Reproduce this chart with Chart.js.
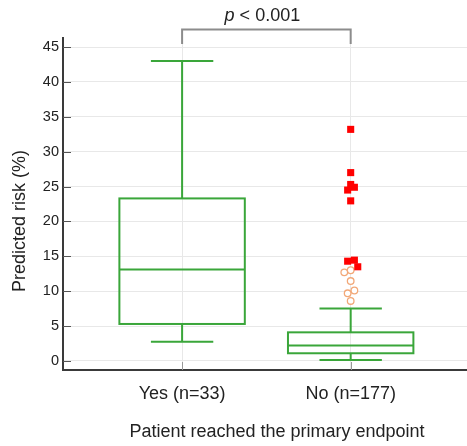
<!DOCTYPE html>
<html>
<head>
<meta charset="utf-8">
<script src="https://cdn.jsdelivr.net/npm/chart.js@4"></script>
<style>
  html, body { margin: 0; padding: 0; background: #ffffff; overflow: hidden; }
  canvas { display: block; }
</style>
</head>
<body>
<canvas id="c" width="467" height="446"></canvas>
<script>
// ---- data ----
const categories = ['Yes (n=33)', 'No (n=177)'];
const boxMin    = [2.75, 0.15];
const boxQ1     = [5.3, 1.1];
const boxMedian = [13.1, 2.2];
const boxQ3     = [23.3, 4.1];
const boxMax    = [43.0, 7.5];
// outliers of group "No" (index 1)
const extremeY      = [33.2, 27.0, 25.3, 24.9, 24.5, 22.95, 14.3, 14.45, 13.5];
const extremeJitter = [0, 0, 0, 0.022, -0.018, 0, -0.018, 0.022, 0.042];
const mildY         = [13.0, 12.7, 11.45, 10.1, 9.7, 8.6];
const mildJitter    = [0, -0.038, 0, 0.022, -0.018, 0];
const yTicks = [0, 5, 10, 15, 20, 25, 30, 35, 40, 45];
const yTitle = 'Predicted risk (%)';
const xTitle = 'Patient reached the primary endpoint';
const pText = ['p', ' < 0.001'];

const FONT = "'Liberation Sans', Arial, Helvetica, sans-serif";
const GREEN = '#3aa63a';

const extremeData = extremeY.map((v, i) => ({ x: 2 + extremeJitter[i], y: v }));
const mildData = mildY.map((v, i) => ({ x: 2 + mildJitter[i], y: v }));

const boxPlugin = {
  id: 'boxes',
  beforeDatasetsDraw(chart) {
    const { ctx, scales: { x, y }, chartArea } = chart;
    ctx.save();
    // inward tick marks
    ctx.lineWidth = 1;
    ctx.strokeStyle = '#555';
    yTicks.forEach(v => {
      const py = Math.round(y.getPixelForValue(v)) + 0.5;
      ctx.beginPath(); ctx.moveTo(chartArea.left, py); ctx.lineTo(chartArea.left + 8, py); ctx.stroke();
    });
    ctx.strokeStyle = '#999';
    categories.forEach((c, i) => {
      const px = Math.round(x.getPixelForValue(i + 1)) + 0.5;
      ctx.beginPath(); ctx.moveTo(px, chartArea.bottom - 8); ctx.lineTo(px, chartArea.bottom); ctx.stroke();
    });
    // box plots
    ctx.strokeStyle = GREEN;
    ctx.lineWidth = 2;
    categories.forEach((c, i) => {
      const cx = i + 1;
      const bl = x.getPixelForValue(cx - 0.372), br = x.getPixelForValue(cx + 0.372);
      const cl = x.getPixelForValue(cx - 0.185), cr = x.getPixelForValue(cx + 0.185);
      const mx = x.getPixelForValue(cx);
      const yq1 = y.getPixelForValue(boxQ1[i]), yq3 = y.getPixelForValue(boxQ3[i]);
      const ymed = y.getPixelForValue(boxMedian[i]);
      const ymin = y.getPixelForValue(boxMin[i]), ymax = y.getPixelForValue(boxMax[i]);
      ctx.strokeRect(bl, yq3, br - bl, yq1 - yq3);
      ctx.beginPath();
      ctx.moveTo(bl, ymed); ctx.lineTo(br, ymed);
      ctx.moveTo(mx, yq3); ctx.lineTo(mx, ymax);
      ctx.moveTo(cl, ymax); ctx.lineTo(cr, ymax);
      ctx.moveTo(mx, yq1); ctx.lineTo(mx, ymin);
      ctx.moveTo(cl, ymin); ctx.lineTo(cr, ymin);
      ctx.stroke();
    });
    ctx.restore();
  },
  afterDraw(chart) {
    const { ctx, scales: { x, y }, chartArea } = chart;
    ctx.save();
    // significance bracket
    const x1 = x.getPixelForValue(1), x2 = x.getPixelForValue(2);
    const by = chartArea.top - 8.5;
    ctx.strokeStyle = '#8c8c8c';
    ctx.lineWidth = 2;
    ctx.beginPath();
    ctx.moveTo(x1, chartArea.top + 6); ctx.lineTo(x1, by); ctx.lineTo(x2, by); ctx.lineTo(x2, chartArea.top + 6);
    ctx.stroke();
    // p text
    ctx.fillStyle = '#222';
    ctx.textBaseline = 'alphabetic';
    ctx.font = 'italic 18px ' + FONT;
    const w1 = ctx.measureText(pText[0]).width;
    ctx.font = '18px ' + FONT;
    const w2 = ctx.measureText(pText[1]).width;
    let sx = (x1 + x2) / 2 - (w1 + w2) / 2 - 4;
    ctx.font = 'italic 18px ' + FONT;
    ctx.fillText(pText[0], sx, 21);
    ctx.font = '18px ' + FONT;
    ctx.fillText(pText[1], sx + w1, 21);
    // axis titles
    ctx.textAlign = 'center';
    ctx.textBaseline = 'middle';
    ctx.fillText(xTitle, (chartArea.left + chartArea.right) / 2 + 12, 432);
    ctx.translate(20, (chartArea.top + chartArea.bottom) / 2 + 17);
    ctx.rotate(-Math.PI / 2);
    ctx.fillText(yTitle, 0, 0);
    ctx.restore();
  }
};

new Chart(document.getElementById('c'), {
  type: 'scatter',
  data: {
    datasets: [
      {
        label: 'Extreme outliers',
        data: extremeData,
        pointStyle: 'rect',
        pointRadius: 5,
        backgroundColor: '#ff0000',
        borderColor: '#ff0000',
        borderWidth: 0
      },
      {
        label: 'Outliers',
        data: mildData,
        pointStyle: 'circle',
        pointRadius: 3.3,
        backgroundColor: '#ffffff',
        borderColor: '#f2a878',
        borderWidth: 1.3
      }
    ]
  },
  options: {
    responsive: false,
    animation: false,
    devicePixelRatio: 1,
    layout: { autoPadding: false, padding: { top: 38, left: 0, right: 0, bottom: 0 } },
    plugins: { legend: { display: false }, tooltip: { enabled: false } },
    scales: {
      x: {
        type: 'linear',
        min: 0.2935,
        max: 2.69,
        afterFit(s) { s.height = 76; },
        afterBuildTicks(s) { s.ticks = categories.map((c, i) => ({ value: i + 1 })); },
        ticks: {
          callback: (v) => categories[v - 1] || '',
          font: { family: FONT, size: 18 },
          color: '#222',
          padding: 13,
          autoSkip: false,
          maxRotation: 0
        },
        grid: { color: '#e8e8e8', lineWidth: 1, drawTicks: false },
        border: { display: true, color: '#3a3a3a', width: 2 }
      },
      y: {
        type: 'linear',
        min: -1.3,
        max: 46.3,
        afterFit(s) { s.width = 63; },
        afterBuildTicks(s) { s.ticks = yTicks.map(v => ({ value: v })); },
        ticks: {
          font: { family: FONT, size: 14.5 },
          color: '#222',
          padding: 4
        },
        grid: { color: '#e8e8e8', lineWidth: 1, drawTicks: false },
        border: { display: true, color: '#3a3a3a', width: 2 }
      }
    }
  },
  plugins: [boxPlugin]
});
</script>
</body>
</html>
